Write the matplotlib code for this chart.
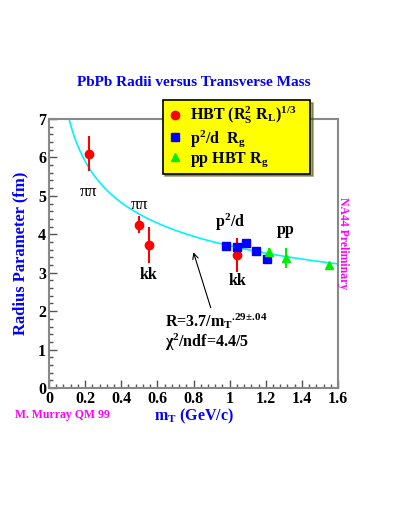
import numpy as np
import matplotlib
matplotlib.use('Agg')
import matplotlib.pyplot as plt
from matplotlib.lines import Line2D
from matplotlib.ticker import MultipleLocator

plt.rcParams['font.family'] = ['Liberation Serif', 'DejaVu Serif']
plt.rcParams['mathtext.fontset'] = 'custom'
plt.rcParams['mathtext.rm'] = 'Liberation Serif:bold'
plt.rcParams['mathtext.it'] = 'Liberation Serif:bold'
plt.rcParams['mathtext.bf'] = 'Liberation Serif:bold'

"""
Data read off the figure
"""
# HBT (Rs^2 RL)^1/3, red circles
hbt_mt = [0.22, 0.50, 0.554, 1.043]
hbt_r = [6.10, 4.25, 3.71, 3.46]
hbt_err = [0.45, 0.22, 0.47, 0.45]

# p^2/d Rg, blue squares
pd_mt = [0.98, 1.04, 1.089, 1.146, 1.205]
pd_r = [3.70, 3.66, 3.78, 3.57, 3.36]
pd_err = [0.10, 0.10, 0.08, 0.08, 0.10]

# pp HBT Rg, green triangles
pp_mt = [1.22, 1.312, 1.552]
pp_r = [3.54, 3.39, 3.20]
pp_err = [0.10, 0.26, 0.04]

# fit R = A / mT^alpha
fit_a = 3.7
fit_alpha = 0.29

bold_serif = dict(fontweight='bold', family='Liberation Serif')

fig = plt.figure(figsize=(3.98, 5.18), dpi=100)
ax = fig.add_axes([49 / 398, 1 - 388 / 518, 289 / 398, 269 / 518])

mt = np.linspace(0.1, 1.6, 300)
ax.plot(mt, fit_a / mt ** fit_alpha, color='#00f4ff', lw=1.2, zorder=1)

ax.errorbar(hbt_mt, hbt_r, yerr=hbt_err, fmt='o', color='red', ms=6,
            elinewidth=1.5, capsize=0, zorder=3)
ax.errorbar(pd_mt, pd_r, yerr=pd_err, xerr=0.02, fmt='s', color='blue', ms=6,
            elinewidth=2, capsize=0, zorder=3)
ax.errorbar(pp_mt, pp_r, yerr=pp_err, fmt='^', color='#00ee00', ms=6,
            elinewidth=1.5, capsize=0, zorder=3)

ax.set_xlim(0, 1.6)
ax.set_ylim(0, 7)
ax.xaxis.set_major_locator(MultipleLocator(0.2))
ax.xaxis.set_minor_locator(MultipleLocator(0.04))
ax.yaxis.set_major_locator(MultipleLocator(1))
ax.yaxis.set_minor_locator(MultipleLocator(0.2))
ax.xaxis.set_major_formatter(plt.FuncFormatter(
    lambda x, p: '%d' % x if abs(x - round(x)) < 1e-6 else ('%.1f' % x)))
ax.tick_params(which='both', direction='in', color='#555555', top=False, right=False)
ax.tick_params(which='major', length=6, width=1, labelsize=11.5, pad=2)
ax.tick_params(which='minor', length=3, width=1)
for lab in ax.get_xticklabels() + ax.get_yticklabels():
    lab.set_fontweight('bold')
for sp in ax.spines.values():
    sp.set_color('#888888')
    sp.set_linewidth(1.5)

ax.set_xlabel(r'm$_{\rm T}$ (GeV/c)', color='blue', fontsize=11.5, fontweight='bold', labelpad=0)
ax.set_ylabel('Radius Parameter (fm)', color='blue', fontsize=12, fontweight='bold', labelpad=7)

fig.text(0.487, 1 - 83 / 518, 'PbPb Radii versus Transverse Mass', color='blue',
         fontsize=11, ha='center', va='center', **bold_serif)
fig.text(15 / 398, 1 - 415 / 518, 'M. Murray QM 99', color='#ff00ff',
         fontsize=8.5, ha='left', va='center', **bold_serif)
fig.text(343 / 398, 1 - 243 / 518, 'NA44 Preliminary', color='#ff00ff',
         fontsize=8.5, rotation=-90, ha='center', va='center', **bold_serif)

# point annotations
ax.text(0.22, 5.11, 'ππ', fontsize=12.5, ha='center', va='center')
ax.text(0.50, 4.77, 'ππ', fontsize=12.5, ha='center', va='center')
ax.text(0.553, 2.94, 'kk', fontsize=11.5, ha='center', va='center', fontweight='bold')
ax.text(1.0, 4.3, r'p$^2$/d', fontsize=11.5, ha='center', va='center', fontweight='bold')
ax.text(1.31, 4.1, 'pp', fontsize=11.5, ha='center', va='center', fontweight='bold')
ax.text(1.043, 2.79, 'kk', fontsize=11.5, ha='center', va='center', fontweight='bold')

ax.annotate('', xy=(0.795, 3.6), xytext=(0.90, 2.02),
            arrowprops=dict(arrowstyle='->', color='black', lw=0.8))
ax.text(0.64, 1.73, r'R=3.7/m$_{\rm T}$$^{\text{.29±.04}}$', fontsize=11.5, ha='left',
        va='center', fontweight='bold')
ax.text(0.64, 1.2, r'χ$^2$/ndf=4.4/5', fontsize=11.5, ha='left', va='center',
        fontweight='bold')

handles = [Line2D([], [], ls='', marker='o', color='red', ms=6),
           Line2D([], [], ls='', marker='s', color='blue', ms=6),
           Line2D([], [], ls='', marker='^', color='#00ee00', ms=6)]
labels = [r'HBT (R$_S^2$ R$_L$)$^{1/3}$   ', r'p$^2$/d  R$_g$', r'pp HBT R$_g$']
leg = fig.legend(handles, labels, loc='upper left',
                 bbox_to_anchor=(162.7 / 398, 1 - 100 / 518),
                 bbox_transform=fig.transFigure, fontsize=11.5,
                 facecolor='yellow', edgecolor='black', framealpha=1,
                 fancybox=False, shadow=True, handletextpad=0.5,
                 handlelength=0.9, borderpad=0.3, labelspacing=0.1,
                 borderaxespad=0)
leg.get_frame().set_linewidth(1.2)
for t in leg.get_texts():
    t.set_fontweight('bold')

fig.savefig('out.png', dpi=100)
